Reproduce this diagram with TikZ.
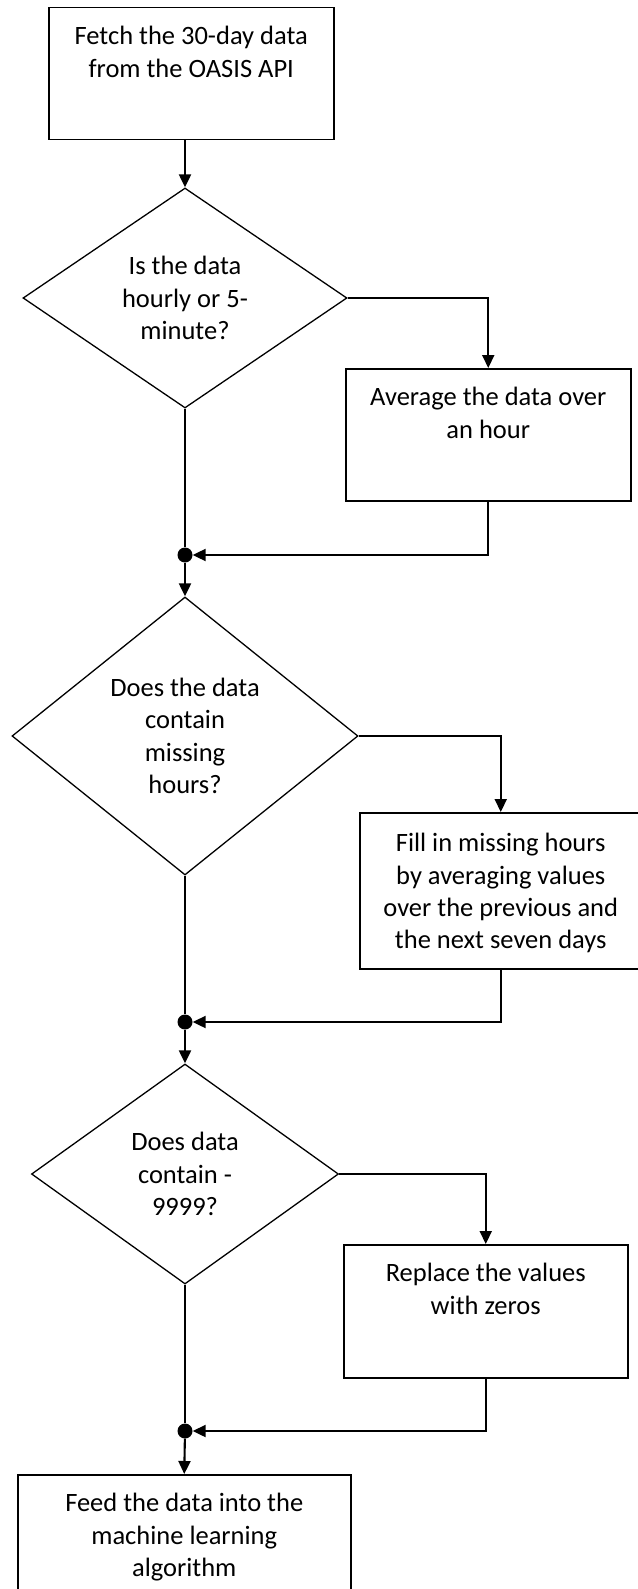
\documentclass[tikz,border=0pt]{standalone}
\usepackage{fontspec}
\setmainfont{Carlito}
\usetikzlibrary{shapes.geometric,arrows.meta}
\newcommand\flowfont{\fontsize{26.5}{32.3}\selectfont}
\newcommand\boxtext[4][14.4pt]{\parbox[t][#2][t]{#3}{\centering\flowfont\vspace*{#1}\strut#4}}
\begin{document}
\begin{tikzpicture}[x=1pt,y=-1pt,
  box/.style={draw, line width=1.5pt, rectangle, inner sep=0pt, anchor=north west},
  dec/.style={draw, line width=1.3pt, diamond, inner sep=0pt, align=center, font=\flowfont},
  conn/.style={line width=2.1pt},
  arr/.style={conn, -{Triangle[length=13pt,width=12pt]}},
  dot/.style={circle, fill, inner sep=0pt, minimum size=15pt}
]
\useasboundingbox (0,0) rectangle (637,1589);

\node[box] (b1) at (48,7) {\boxtext{132pt}{285pt}{Fetch the 30-day data\\from the OASIS API}};
\node[dec, minimum width=324pt, minimum height=220pt, aspect=1.47] (d1) at (185,298) {Is the data\\hourly or 5-\\minute?};
\node[box] (avg) at (345,368) {\boxtext{132pt}{285pt}{Average the data over\\an hour}};
\node[dot] (j1) at (185,555) {};
\node[dec, minimum width=346pt, minimum height=278pt, aspect=1.245] (d2) at (185,736) {Does the data\\contain\\missing\\hours?};
\node[box] (fill) at (359,812) {\boxtext[16.4pt]{156pt}{282pt}{Fill in missing hours\\by averaging values\\over the previous and\\the next seven days}};
\node[dot] (j2) at (185,1022) {};
\node[dec, minimum width=307pt, minimum height=220pt, aspect=1.395] (d3) at (185,1174) {Does data\\contain -\\9999?};
\node[box] (rep) at (343,1244) {\boxtext{133pt}{284pt}{Replace the values\\with zeros}};
\node[dot] (j3) at (185,1431) {};
\node[box] (fin) at (17,1474) {\boxtext{122pt}{333pt}{Feed the data into the\\machine learning\\algorithm}};

\draw[arr] (b1.south -| d1.north) -- (d1.north);
\draw[arr] (d1.east) -| (avg.north);
\draw[conn] (d1.south) -- (j1);
\draw[arr] (avg.south) |- (j1);
\draw[arr] (j1) -- (d2.north);
\draw[arr] (d2.east) -| (fill.north);
\draw[conn] (d2.south) -- (j2);
\draw[arr] (fill.south) |- (j2);
\draw[arr] (j2) -- (d3.north);
\draw[arr] (d3.east) -| (rep.north);
\draw[conn] (d3.south) -- (j3);
\draw[arr] (rep.south) |- (j3);
\draw[arr] (j3) -- (fin.north);
\end{tikzpicture}
\end{document}
